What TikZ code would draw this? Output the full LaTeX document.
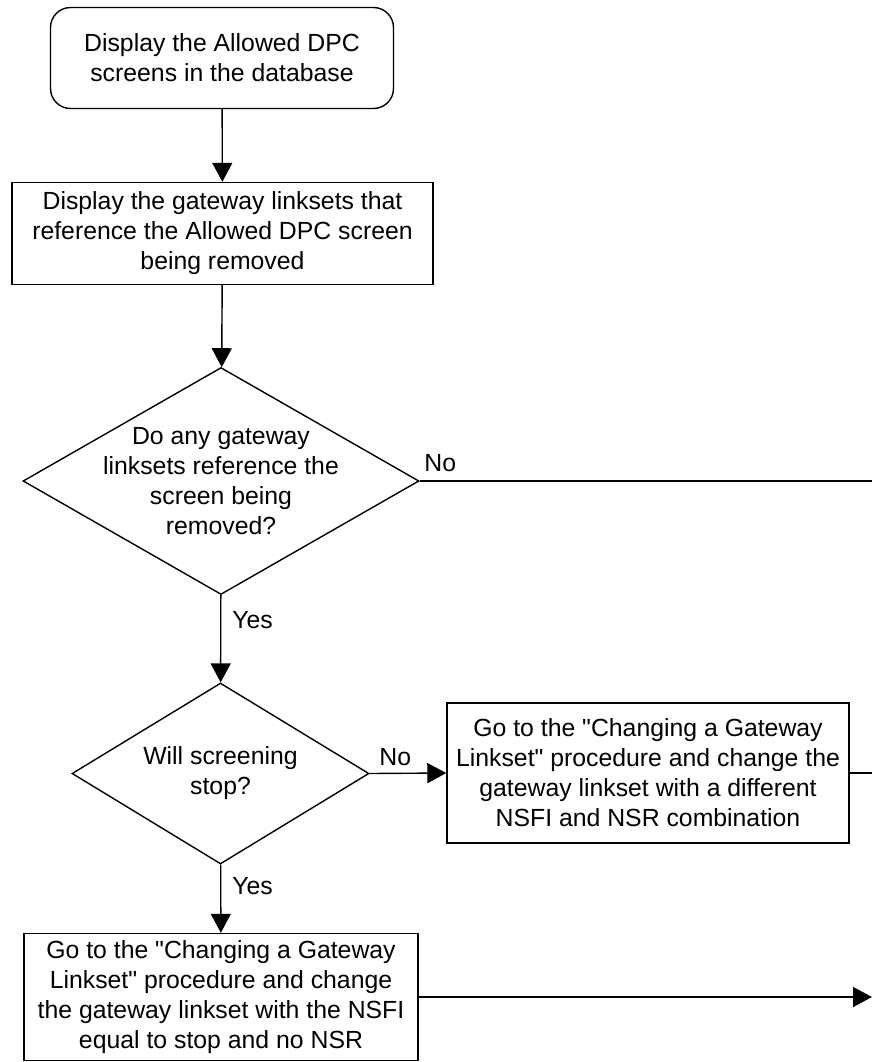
\documentclass[tikz,border=0pt]{standalone}
\usepackage{fontspec}
\setmainfont{Liberation Sans}
\usetikzlibrary{shapes.geometric,arrows.meta}
\newcommand{\flowfont}{\fontsize{12.4}{15}\selectfont}
\newcommand{\sq}{\textquotedbl}
\tikzset{
  stepbox/.style={draw, line width=0.7pt, align=center, inner sep=0pt, font=\flowfont},
  startbox/.style={stepbox, rounded corners=10pt},
  query/.style={draw, diamond, line width=0.7pt, inner sep=0pt},
  flow/.style={line width=0.7pt, -{Triangle[length=9.5pt,width=10pt]}},
  plainline/.style={line width=0.7pt},
  branch/.style={font=\flowfont, inner sep=0pt},
}
\begin{document}
\begin{tikzpicture}[x=0.5pt, y=-0.5pt]
  \useasboundingbox (0,0) rectangle (872,1062);

  % main column
  \node[startbox, minimum width=171.5pt, minimum height=50.5pt] (show) at (222,58)
    {Display the Allowed DPC\\screens in the database};
  \node[stepbox, minimum width=210.5pt, minimum height=51pt] (gwls) at (222.5,233.5)
    {Display the gateway linksets that\\reference the Allowed DPC screen\\being removed};
  \node[query, minimum width=198pt, minimum height=113.5pt,
    label={[align=center, font=\flowfont]center:Do any gateway\\linksets reference the\\screen being\\removed?}]
    (anyref) at (221,481) {};
  \node[query, minimum width=148.5pt, minimum height=90.5pt,
    label={[align=center, font=\flowfont]center:Will screening\\stop?}]
    (stopq) at (220.5,773.5) {};
  \node[stepbox, minimum width=197pt, minimum height=63.5pt] (nsfistop) at (221,997)
    {Go to the \sq Changing a Gateway\\Linkset\sq{} procedure and change\\the gateway linkset with the NSFI\\equal to stop and no NSR};

  % side branch
  \node[stepbox, minimum width=201pt, minimum height=70pt] (nsfidiff) at (648,773)
    {Go to the \sq Changing a Gateway\\Linkset\sq{} procedure and change the\\gateway linkset with a different\\NSFI and NSR combination};

  % ends running off the right edge
  \coordinate (exitA) at (872,481);
  \coordinate (exitB) at (872,773);
  \coordinate (exitC) at (872,997);

  \draw[flow] (show) -- (gwls);
  \draw[flow] (gwls) -- (anyref);
  \draw[plainline] (anyref.east) -- (exitA);
  \draw[flow] (anyref) -- (stopq);
  \draw[flow] (stopq.east) -- (nsfidiff.west);
  \draw[plainline] (nsfidiff.east) -- (exitB);
  \draw[flow] (stopq) -- (nsfistop);
  \draw[flow] (nsfistop.east) -- (exitC);

  % branch labels
  \node[branch, anchor=west] (noA) at (424,463) {No};
  \node[branch, anchor=west] (yesA) at (232,620) {Yes};
  \node[branch, anchor=west] (noB) at (379,757) {No};
  \node[branch, anchor=west] (yesB) at (232,886) {Yes};
\end{tikzpicture}
\end{document}
